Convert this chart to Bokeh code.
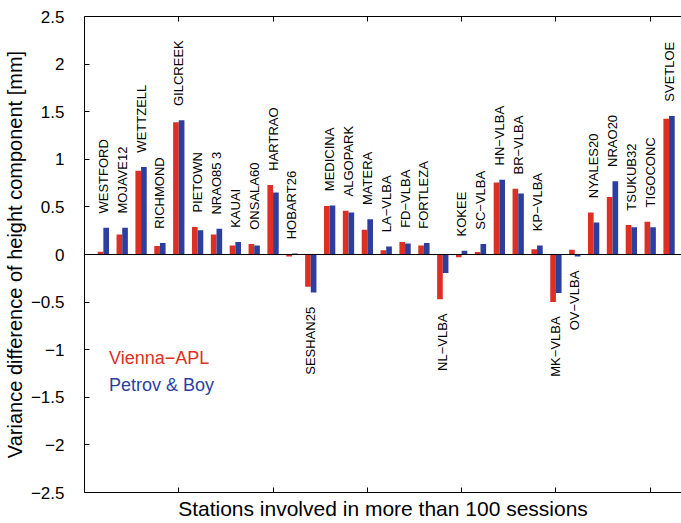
import math
from bokeh.plotting import figure
from bokeh.models import FixedTicker, LinearAxis, Span, Label, CustomJSTickFormatter, Range1d
from bokeh.core.properties import value
from bokeh.embed import file_html
from bokeh.resources import INLINE

stations = ["WESTFORD", "MOJAVE12", "WETTZELL", "RICHMOND", "GILCREEK", "PIETOWN",
            "NRAO85 3", "KAUAI", "ONSALA60", "HARTRAO", "HOBART26", "SESHAN25",
            "MEDICINA", "ALGOPARK", "MATERA", "LA\u2212VLBA", "FD\u2212VLBA", "FORTLEZA",
            "NL\u2212VLBA", "KOKEE", "SC\u2212VLBA", "HN\u2212VLBA", "BR\u2212VLBA", "KP\u2212VLBA",
            "MK\u2212VLBA", "OV\u2212VLBA", "NYALES20", "NRAO20", "TSUKUB32", "TIGOCONC", "SVETLOE"]
vienna_apl = [0.03, 0.21, 0.88, 0.09, 1.39, 0.29, 0.21, 0.095, 0.11, 0.73, -0.02, -0.34,
              0.51, 0.46, 0.26, 0.045, 0.13, 0.095, -0.47, -0.03, 0.025, 0.755, 0.69, 0.055,
              -0.50, 0.05, 0.44, 0.605, 0.31, 0.345, 1.425]
petrov_boy = [0.28, 0.28, 0.92, 0.12, 1.41, 0.255, 0.27, 0.13, 0.095, 0.65, 0.01, -0.40,
              0.515, 0.44, 0.37, 0.085, 0.115, 0.12, -0.195, 0.04, 0.11, 0.785, 0.64, 0.095,
              -0.405, -0.02, 0.335, 0.77, 0.285, 0.285, 1.455]
labels_below = ["SESHAN25", "NL\u2212VLBA", "MK\u2212VLBA", "OV\u2212VLBA"]
x_ticks = [5, 10, 15, 20, 25, 30]
y_ticks = [-2.5, -2, -1.5, -1, -0.5, 0, 0.5, 1, 1.5, 2, 2.5]
series_names = ["Vienna\u2212APL", "Petrov & Boy"]

RED = "#de2f24"
BLUE = "#2c3f9e"
FONT = "Liberation Sans"

W, H = 681, 523
p = figure(width=W, height=H, output_backend="svg", toolbar_location=None,
           x_range=Range1d(0, 31.66), y_range=Range1d(-2.5, 2.5),
           min_border_left=82, min_border_right=0, min_border_top=16, min_border_bottom=31)
p.outline_line_color = None
p.grid.visible = False
p.background_fill_color = "white"
p.border_fill_color = "white"

xs = list(range(1, len(stations) + 1))
bw = 0.3
p.vbar(x=[x - bw / 2 for x in xs], top=vienna_apl, bottom=0, width=bw,
       fill_color=RED, line_color=None)
p.vbar(x=[x + bw / 2 for x in xs], top=petrov_boy, bottom=0, width=bw,
       fill_color=BLUE, line_color=None)
p.add_layout(Span(location=0, dimension="width", line_color="black", line_width=1))

# station labels
off = 0.15
ax, ay, bx, by, at, bt = [], [], [], [], [], []
for x, name, r, b in zip(xs, stations, vienna_apl, petrov_boy):
    if name in labels_below:
        bx.append(x); by.append(min(r, b, 0) - off); bt.append(name)
    else:
        ax.append(x); ay.append(max(r, b, 0) + off); at.append(name)
p.text(x=ax, y=ay, text=at, angle=math.pi / 2, text_align="left", text_baseline="middle",
       text_font=value(FONT), text_font_size="13px", text_color="black")
p.text(x=bx, y=by, text=bt, angle=math.pi / 2, text_align="right", text_baseline="middle",
       text_font=value(FONT), text_font_size="13px", text_color="black")

blank = CustomJSTickFormatter(code="return '';")

# axes
yaxis = p.yaxis[0]
yaxis.ticker = FixedTicker(ticks=y_ticks)
yaxis.formatter = CustomJSTickFormatter(code="return (tick < 0 ? '\\u2212' : '') + Math.abs(tick).toString();")
yaxis.major_tick_in = 5
yaxis.major_tick_out = 0
yaxis.minor_tick_line_color = None
yaxis.major_label_standoff = 20
yaxis.major_label_text_font = FONT
yaxis.major_label_text_font_size = "17px"
yaxis.major_label_text_color = "black"
yaxis.axis_line_color = "black"
yaxis.axis_label = "Variance difference of height component [mm]"
yaxis.axis_label_text_font = FONT
yaxis.axis_label_text_font_size = "20px"
yaxis.axis_label_text_font_style = "normal"
yaxis.axis_label_text_color = "black"
yaxis.axis_label_standoff = 2

xaxis = p.xaxis[0]
xaxis.ticker = FixedTicker(ticks=x_ticks)
xaxis.formatter = blank
xaxis.major_tick_in = 5
xaxis.major_tick_out = 0
xaxis.minor_tick_line_color = None
xaxis.major_label_text_font_size = "10px"
xaxis.major_label_standoff = 0
xaxis.axis_line_color = "black"
xaxis.axis_label = "Stations involved in more than 100 sessions"
xaxis.axis_label_text_font = FONT
xaxis.axis_label_text_font_size = "21px"
xaxis.axis_label_text_font_style = "normal"
xaxis.axis_label_text_color = "black"
xaxis.axis_label_standoff = 4

top = LinearAxis(ticker=FixedTicker(ticks=x_ticks), formatter=blank, major_tick_in=5,
                 major_tick_out=0, minor_tick_line_color=None,
                 major_label_text_font_size="8px", major_label_standoff=0,
                 axis_line_color="black")
p.add_layout(top, "above")

p.add_layout(Label(x=1.3, y=-1.082, text=series_names[0], text_align="left",
                   text_baseline="alphabetic", text_font=FONT, text_font_size="18px",
                   text_color=RED))
p.add_layout(Label(x=1.3, y=-1.366, text=series_names[1], text_align="left",
                   text_baseline="alphabetic", text_font=FONT, text_font_size="18px",
                   text_color=BLUE))

open("out.html", "w").write(file_html(p, INLINE))
